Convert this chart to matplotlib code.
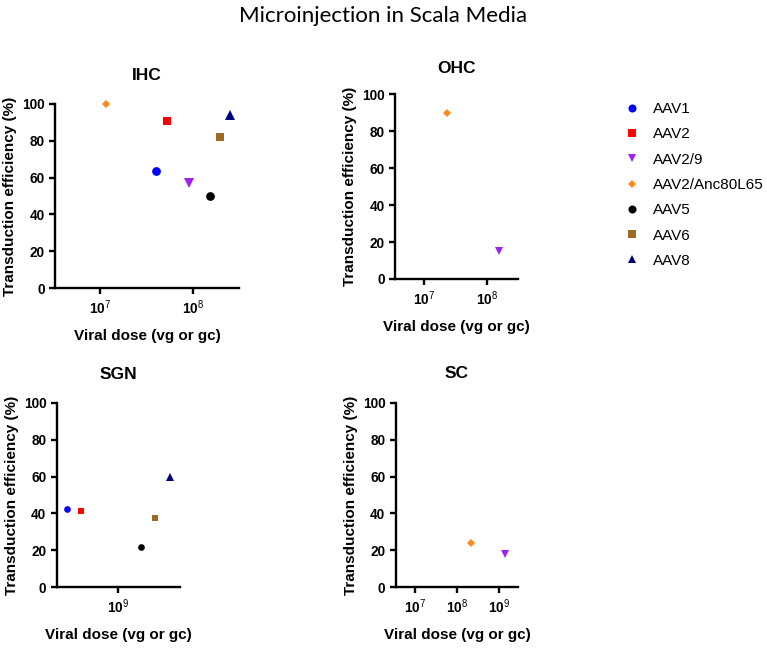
import matplotlib
matplotlib.use('Agg')
import math
import matplotlib.pyplot as plt
from matplotlib.lines import Line2D
from matplotlib.ticker import FixedLocator, NullLocator, FuncFormatter

plt.rcParams['font.family'] = ['Liberation Sans', 'DejaVu Sans']
plt.rcParams['mathtext.fontset'] = 'custom'
plt.rcParams['mathtext.rm'] = 'Liberation Sans'
plt.rcParams['mathtext.bf'] = 'Liberation Sans:bold'

# serotypes and their look
serotypes = ['AAV1', 'AAV2', 'AAV2/9', 'AAV2/Anc80L65', 'AAV5', 'AAV6', 'AAV8']
colors = ['#0000FF', '#FF0000', '#A020F0', '#FF8A1C', '#000000', '#9C6A22', '#00007F']
markers = ['o', 's', 'v', 'D', 'o', 's', '^']

# IHC
ihc_vectors = ['AAV1', 'AAV2', 'AAV2/9', 'AAV2/Anc80L65', 'AAV5', 'AAV6', 'AAV8']
ihc_dose = [4.0e7, 5.2e7, 8.9e7, 1.15e7, 1.5e8, 1.95e8, 2.5e8]
ihc_eff = [63.5, 90.5, 57, 100, 50, 82, 94]

# OHC
ohc_vectors = ['AAV2/Anc80L65', 'AAV2/9']
ohc_dose = [2.26e7, 1.53e8]
ohc_eff = [90, 15]

# SGN
sgn_vectors = ['AAV1', 'AAV2', 'AAV5', 'AAV6', 'AAV8']
sgn_dose = [3.8e8, 5.0e8, 1.52e9, 2.0e9, 2.6e9]
sgn_eff = [42.5, 41.5, 22, 37.5, 60]

# SC
sc_vectors = ['AAV2/Anc80L65', 'AAV2/9']
sc_dose = [2.2e8, 1.4e9]
sc_eff = [24, 18]

W, H = 767, 649
fig = plt.figure(figsize=(W / 100, H / 100), dpi=100)


def px_axes(left, right, bottom, top):
    # axes box from pixel edges
    return fig.add_axes([left / W, 1 - bottom / H, (right - left) / W, (bottom - top) / H])


def fmt_pow(v, pos):
    e = int(round(math.log10(v)))
    return r'$\mathbf{10}^{\mathrm{%d}}$' % e


def draw_panel(ax, title, vectors, dose, eff, xlim, xticks, big, pad):
    for v, d, e in zip(vectors, dose, eff):
        i = serotypes.index(v)
        ms = 6.3 if big else 4.8
        if markers[i] == 'D':
            ms = 3.9
        elif markers[i] in ('v', '^'):
            ms = ms + 1
        ax.plot([d], [e], linestyle='none', marker=markers[i], color=colors[i],
                markersize=ms, markeredgewidth=0, clip_on=False)
    ax.set_xscale('log')
    ax.set_xlim(xlim)
    ax.set_ylim(0, 100)
    ax.xaxis.set_major_locator(FixedLocator(xticks))
    ax.xaxis.set_minor_locator(NullLocator())
    ax.xaxis.set_major_formatter(FuncFormatter(fmt_pow))
    ax.set_yticks([0, 20, 40, 60, 80, 100])
    for s in ['top', 'right']:
        ax.spines[s].set_visible(False)
    for s in ['left', 'bottom']:
        ax.spines[s].set_linewidth(1.7)
    ax.tick_params(width=1.7, length=4.5, pad=3, labelsize=9.8)
    for lab in ax.get_yticklabels():
        lab.set_fontweight('bold')
    ax.set_title(title, fontsize=12.5, fontweight='bold', pad=pad)

    bb = ax.get_position()
    wpx = bb.width * W
    hpx = bb.height * H
    ax.set_ylabel('Transduction efficiency (%)', fontsize=11, fontweight='bold', va='center')
    ax.yaxis.set_label_coords(-45 / wpx, 0.5)
    ax.set_xlabel('Viral dose (vg or gc)', fontsize=11, fontweight='bold', va='center')
    ax.xaxis.set_label_coords(0.5, -48 / hpx)


ax1 = px_axes(55, 239, 288.3, 103.7)
draw_panel(ax1, 'IHC', ihc_vectors, ihc_dose, ihc_eff, (10 ** 6.516, 10 ** 8.49), [1e7, 1e8], True, 17)

ax2 = px_axes(395, 518.3, 279, 94.3)
draw_panel(ax2, 'OHC', ohc_vectors, ohc_dose, ohc_eff, (10 ** 6.535, 10 ** 8.49), [1e7, 1e8], False, 15)

ax3 = px_axes(56.7, 180, 587.3, 402.7)
draw_panel(ax3, 'SGN', sgn_vectors, sgn_dose, sgn_eff, (10 ** 8.5, 10 ** 9.5), [1e9], False, 17)

ax4 = px_axes(395.7, 518.3, 587.3, 402.7)
draw_panel(ax4, 'SC', sc_vectors, sc_dose, sc_eff, (10 ** 6.54, 10 ** 9.46), [1e7, 1e8, 1e9], False, 17.5)

# legend
handles = []
for i in range(len(serotypes)):
    ms = 5.8
    if markers[i] == 'D':
        ms = 4.2
    handles.append(Line2D([], [], linestyle='none', marker=markers[i], color=colors[i],
                          markersize=ms, markeredgewidth=0))
fig.legend(handles, serotypes, loc='upper left', bbox_to_anchor=(625 / W, 1 - 102 / H),
           frameon=False, fontsize=11, handlelength=0.95, handletextpad=0.9,
           borderpad=0, borderaxespad=0, labelspacing=0.74)

fig.text(0.5, 1 - 16 / H, 'Microinjection in Scala Media', ha='center', va='center',
         fontsize=16, family=['Lato', 'DejaVu Sans'])

fig.savefig('out.png', dpi=100)
